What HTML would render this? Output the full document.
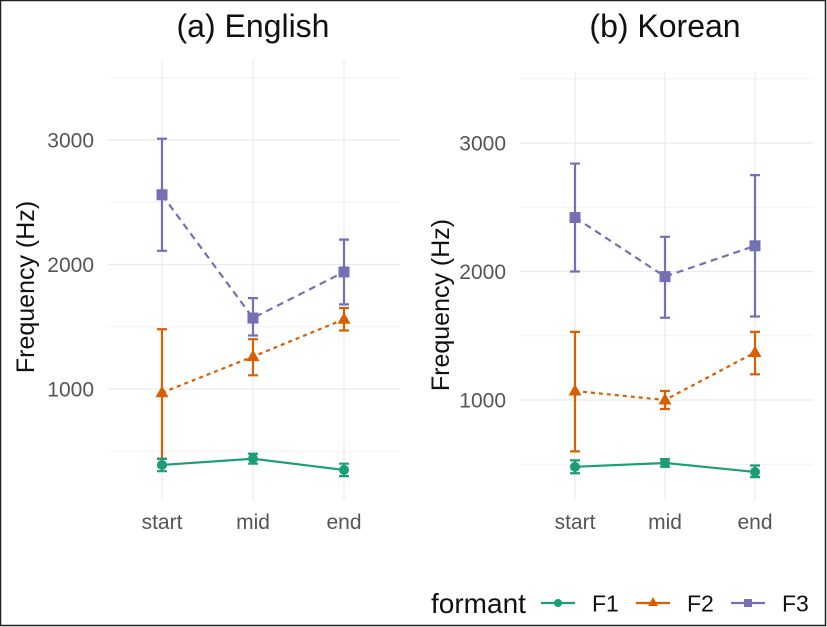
<!DOCTYPE html>
<html><head><meta charset="utf-8"><style>
body{margin:0;background:#fff;}
svg{display:block;font-family:"Liberation Sans",sans-serif;}
</style></head><body>
<svg id="chart" width="827" height="627">
<rect x="0.5" y="0.5" width="825" height="625" fill="#fff" stroke="#222" stroke-width="1.5"/>
</svg>
<script>
const categories=["start","mid","end"];
const seriesNames=["F1","F2","F3"];
const enMean=[[390,440,350],[970,1260,1560],[2560,1570,1940]];
const enLo=[[340,400,300],[440,1110,1470],[2110,1430,1680]];
const enHi=[[440,480,400],[1480,1400,1650],[3010,1730,2200]];
const koMean=[[480,510,440],[1070,1000,1370],[2420,1960,2200]];
const koLo=[[430,480,400],[600,930,1200],[2000,1640,1650]];
const koHi=[[530,540,490],[1530,1070,1530],[2840,2270,2750]];
const yTicks=[1000,2000,3000];
const yMinor=[500,1500,2500,3500];
const titles=["(a) English","(b) Korean"];

const colors=["#1b9e77","#d95f02","#7570b3"];
const dashes=["","4,4","7,5"];
const svg=document.getElementById('chart');
const NS="http://www.w3.org/2000/svg";
function mk(tag,attrs,parent){const e=document.createElementNS(NS,tag);for(const k in attrs)e.setAttribute(k,attrs[k]);(parent||svg).appendChild(e);return e;}

const panels=[
 {mean:enMean,lo:enLo,hi:enHi,x0:108,x1:400,xs:[162,253,344],y1000:389,y3000:140,gTop:60,gBot:500,tx:253,lx:34,ticksX:94},
 {mean:koMean,lo:koLo,hi:koHi,x0:520,x1:813,xs:[575,665,755],y1000:400,y3000:143,gTop:72,gBot:500,tx:665,lx:449,ticksX:506}
];
panels.forEach((p,pi)=>{
 const g=mk('g',{});
 
 
 const ys=v=>p.y1000+(v-1000)*(p.y3000-p.y1000)/2000;
 yMinor.forEach(v=>{const y=ys(v);if(y>=p.gTop-2&&y<=p.gBot){const l=mk('line',{x1:p.x0,x2:p.x1,y1:y,y2:y,stroke:"#f2f2f2","stroke-width":1},g);}});
 yTicks.forEach(v=>{const y=ys(v);const l=mk('line',{x1:p.x0,x2:p.x1,y1:y,y2:y,stroke:"#ebebeb","stroke-width":1.2},g);
  const t=mk('text',{x:p.ticksX,y:y+7.5,"text-anchor":"end","font-size":21,fill:"#555"},g);t.textContent=v;});
 categories.forEach((c,i)=>{const l=mk('line',{x1:p.xs[i],x2:p.xs[i],y1:p.gTop,y2:p.gBot,stroke:"#ebebeb","stroke-width":1.2},g);
  const t=mk('text',{x:p.xs[i],y:529,"text-anchor":"middle","font-size":21,fill:"#555"},g);t.textContent=c;});
 const tt=mk('text',{x:p.tx,y:37,"text-anchor":"middle","font-size":32,fill:"#111"},g);tt.textContent=titles[pi];
 const cy=(pi?305:287);
 const yl=mk('text',{x:p.lx,y:cy,"text-anchor":"middle","font-size":25,fill:"#111",transform:`rotate(-90 ${p.lx} ${cy})`},g);yl.textContent="Frequency (Hz)";
 [2,1,0].forEach(s=>{
  const pts=categories.map((c,i)=>p.xs[i]+","+ys(p.mean[s][i])).join(" ");
  const pl=mk('polyline',{points:pts,fill:"none",stroke:colors[s],"stroke-width":2.2,"stroke-dasharray":dashes[s]},g);
  
  categories.forEach((c,i)=>{
   const x=p.xs[i],yl0=ys(p.lo[s][i]),yh=ys(p.hi[s][i]),ym=ys(p.mean[s][i]);
   const eb=mk('path',{d:`M${x},${yl0}V${yh}M${x-5},${yl0}H${x+5}M${x-5},${yh}H${x+5}`,stroke:colors[s],"stroke-width":2.2,fill:"none"},g);
   
   let m;
   if(s==0)m=mk('circle',{cx:x,cy:ym,r:5,fill:colors[s]},g);
   else if(s==1)m=mk('polygon',{points:`${x},${ym-7} ${x-6.5},${ym+4.5} ${x+6.5},${ym+4.5}`,fill:colors[s]},g);
   else m=mk('rect',{x:x-5.5,y:ym-5.5,width:11,height:11,fill:colors[s]},g);
   
  });
 });
});
// legend
const lg=mk('g',{});


const lt=mk('text',{x:431,y:613,"font-size":28,fill:"#111"},lg);lt.textContent="formant";


const lx=[541,636,731];
seriesNames.forEach((n,s)=>{
 const e=mk('g',{},lg);
 
 
 const x=lx[s],y=603;
 mk('line',{x1:x,x2:x+34,y1:y,y2:y,stroke:colors[s],"stroke-width":2.2},e);
 if(s==0)mk('circle',{cx:x+17,cy:y,r:4,fill:colors[s]},e);
 else if(s==1)mk('polygon',{points:`${x+17},${y-6} ${x+12},${y+3} ${x+22},${y+3}`,fill:colors[s]},e);
 else mk('rect',{x:x+13,y:y-4,width:8,height:8,fill:colors[s]},e);
 const t=mk('text',{x:x+51,y:y+8.5,"font-size":23,fill:"#111"},e);t.textContent=n;
});
</script>
</body></html>
